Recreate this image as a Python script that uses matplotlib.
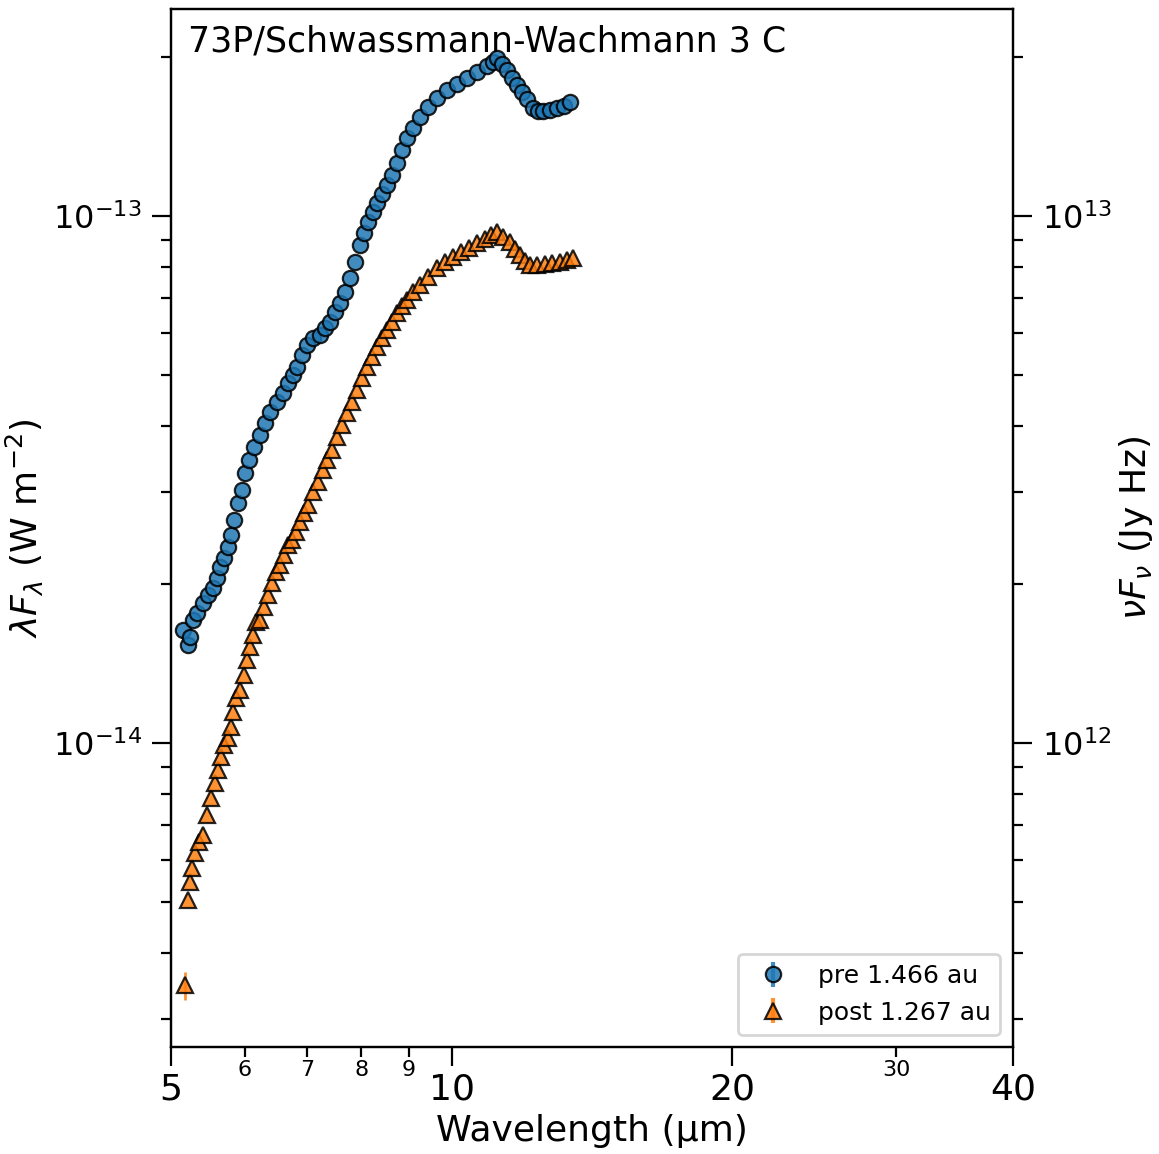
import numpy as np
import matplotlib
matplotlib.use('Agg')
import matplotlib.pyplot as plt
from matplotlib.ticker import FixedLocator, FixedFormatter, NullFormatter

# pre-perihelion spectrum (wavelength in um, lambda F_lambda in 1e-14 W m^-2)
pre_wave = [5.150, 5.214, 5.240, 5.279, 5.331, 5.411, 5.478, 5.546, 5.602, 5.644,
            5.700, 5.756, 5.799, 5.842, 5.900, 5.959, 6.003, 6.063, 6.138, 6.230,
            6.308, 6.386, 6.498, 6.595, 6.677, 6.760, 6.827, 6.912, 6.998, 7.102,
            7.226, 7.316, 7.407, 7.499, 7.592, 7.687, 7.782, 7.879, 7.977, 8.056,
            8.136, 8.237, 8.319, 8.422, 8.527, 8.633, 8.740, 8.849, 8.959, 9.093,
            9.251, 9.436, 9.648, 9.889, 10.137, 10.390, 10.650, 10.916, 11.079, 11.189,
            11.328, 11.469, 11.612, 11.756, 11.902, 12.050, 12.230, 12.382, 12.536, 12.755,
            12.977, 13.204, 13.401]
pre_flux = [1.638, 1.535, 1.589, 1.712, 1.764, 1.843, 1.909, 1.968, 2.056, 2.158,
            2.244, 2.354, 2.481, 2.649, 2.853, 3.020, 3.253, 3.443, 3.644, 3.841,
            4.048, 4.247, 4.437, 4.614, 4.820, 4.992, 5.169, 5.447, 5.690, 5.867,
            5.945, 6.130, 6.293, 6.575, 6.838, 7.174, 7.627, 8.179, 8.810, 9.284,
            9.741, 10.18, 10.58, 11.01, 11.45, 11.96, 12.61, 13.34, 14.06, 14.69,
            15.41, 16.10, 16.75, 17.34, 17.80, 18.28, 18.76, 19.26, 19.60, 19.95,
            19.43, 18.92, 18.28, 17.72, 17.19, 16.67, 16.03, 15.82, 15.82, 15.89,
            16.03, 16.17, 16.46]

# post-perihelion spectrum
post_wave = [5.176, 5.214, 5.240, 5.266, 5.305, 5.358, 5.411, 5.465, 5.519, 5.574,
             5.616, 5.658, 5.700, 5.756, 5.799, 5.828, 5.871, 5.930, 5.988, 6.033,
             6.078, 6.123, 6.169, 6.230, 6.292, 6.355, 6.418, 6.481, 6.546, 6.611,
             6.677, 6.743, 6.810, 6.878, 6.946, 7.015, 7.102, 7.190, 7.280, 7.352,
             7.444, 7.536, 7.630, 7.725, 7.820, 7.918, 8.016, 8.116, 8.217, 8.319,
             8.422, 8.527, 8.633, 8.740, 8.849, 8.959, 9.093, 9.251, 9.436, 9.648,
             9.841, 10.037, 10.237, 10.442, 10.650, 10.862, 11.024, 11.189, 11.356, 11.555,
             11.698, 11.843, 11.991, 12.140, 12.351, 12.598, 12.818, 13.073, 13.302, 13.500]
post_flux = [0.347, 0.504, 0.545, 0.579, 0.618, 0.649, 0.669, 0.730, 0.786, 0.839,
             0.889, 0.941, 0.991, 1.022, 1.072, 1.145, 1.217, 1.261, 1.346, 1.437,
             1.521, 1.603, 1.697, 1.712, 1.812, 1.909, 2.012, 2.111, 2.177, 2.274,
             2.375, 2.427, 2.514, 2.626, 2.731, 2.829, 2.995, 3.129, 3.296, 3.443,
             3.597, 3.807, 4.013, 4.228, 4.437, 4.676, 4.928, 5.169, 5.400, 5.642,
             5.867, 6.074, 6.293, 6.547, 6.751, 6.930, 7.174, 7.398, 7.662, 7.969,
             8.179, 8.360, 8.545, 8.696, 8.888, 9.044, 9.204, 9.325, 9.124, 8.926,
             8.659, 8.433, 8.214, 8.073, 8.073, 8.108, 8.144, 8.179, 8.250, 8.323]
# only the first post point has a visible error bar
post_first_err = 0.021

pre_label = 'pre 1.466 au'
post_label = 'post 1.267 au'
title = '73P/Schwassmann-Wachmann 3 C'

pre_f = np.array(pre_flux) * 1e-14
post_f = np.array(post_flux) * 1e-14

fig = plt.figure(figsize=(1159 / 200, 1154 / 200), dpi=200)
ax = fig.add_axes([0.1475, 0.0927, 0.7265, 0.8995])

h1 = ax.errorbar(pre_wave, pre_f, yerr=0, fmt='o', ms=5.5, mfc='#1f77b4',
                 mec='k', mew=0.8, color='#1f77b4', alpha=0.85, label=pre_label)
h2 = ax.errorbar(post_wave, post_f, yerr=0, fmt='^', ms=6, mfc='#ff7f0e',
                 mec='k', mew=0.8, color='#ff7f0e', alpha=0.85, label=post_label)
ax.errorbar(post_wave[0], post_f[0], yerr=post_first_err * 1e-14, fmt='none',
            ecolor='#ff7f0e', elinewidth=1.0, alpha=0.85, zorder=1)

ax.set_xscale('log')
ax.set_yscale('log')
ax.set_xlim(5, 40)
ylo, yhi = 2.65e-15, 2.47e-13
ax.set_ylim(ylo, yhi)

ax.xaxis.set_major_locator(FixedLocator([5, 10, 20, 40]))
ax.xaxis.set_major_formatter(FixedFormatter(['5', '10', '20', '40']))
ax.xaxis.set_minor_locator(FixedLocator([6, 7, 8, 9, 30]))
ax.xaxis.set_minor_formatter(FixedFormatter(['6', '7', '8', '9', '30']))
ax.tick_params(axis='x', which='major', labelsize=13, length=7, width=0.8, pad=2)
ax.tick_params(axis='x', which='minor', labelsize=8, length=3.5, width=0.8, pad=1)
ax.tick_params(axis='y', which='major', labelsize=11.5, length=7, width=0.8)
ax.tick_params(axis='y', which='minor', length=3.5, width=0.8)
ax.yaxis.set_minor_formatter(NullFormatter())

ax.set_xlabel('Wavelength (μm)', fontsize=13, labelpad=3)
ax.set_ylabel(r'$\lambda F_\lambda$ (W m$^{-2}$)', fontsize=13)
ax.yaxis.set_label_coords(-0.148, 0.5)

ax2 = ax.twinx()
ax2.set_yscale('log')
ax2.set_ylim(ylo * 1e26, yhi * 1e26)
ax2.yaxis.set_minor_formatter(NullFormatter())
ax2.tick_params(axis='y', which='major', labelsize=11.5, length=7, width=0.8)
ax2.tick_params(axis='y', which='minor', length=3.5, width=0.8)
ax2.set_ylabel(r'$\nu F_\nu$ (Jy Hz)', fontsize=13)
ax2.yaxis.set_label_coords(1.123, 0.5)

for a in (ax, ax2):
    for s in a.spines.values():
        s.set_linewidth(0.8)

ax.text(0.02, 0.985, title, transform=ax.transAxes, fontsize=12.5,
        ha='left', va='top')

ax.legend(handles=[h1, h2], loc='lower right', fontsize=9)

fig.savefig('out.png', dpi=200)
